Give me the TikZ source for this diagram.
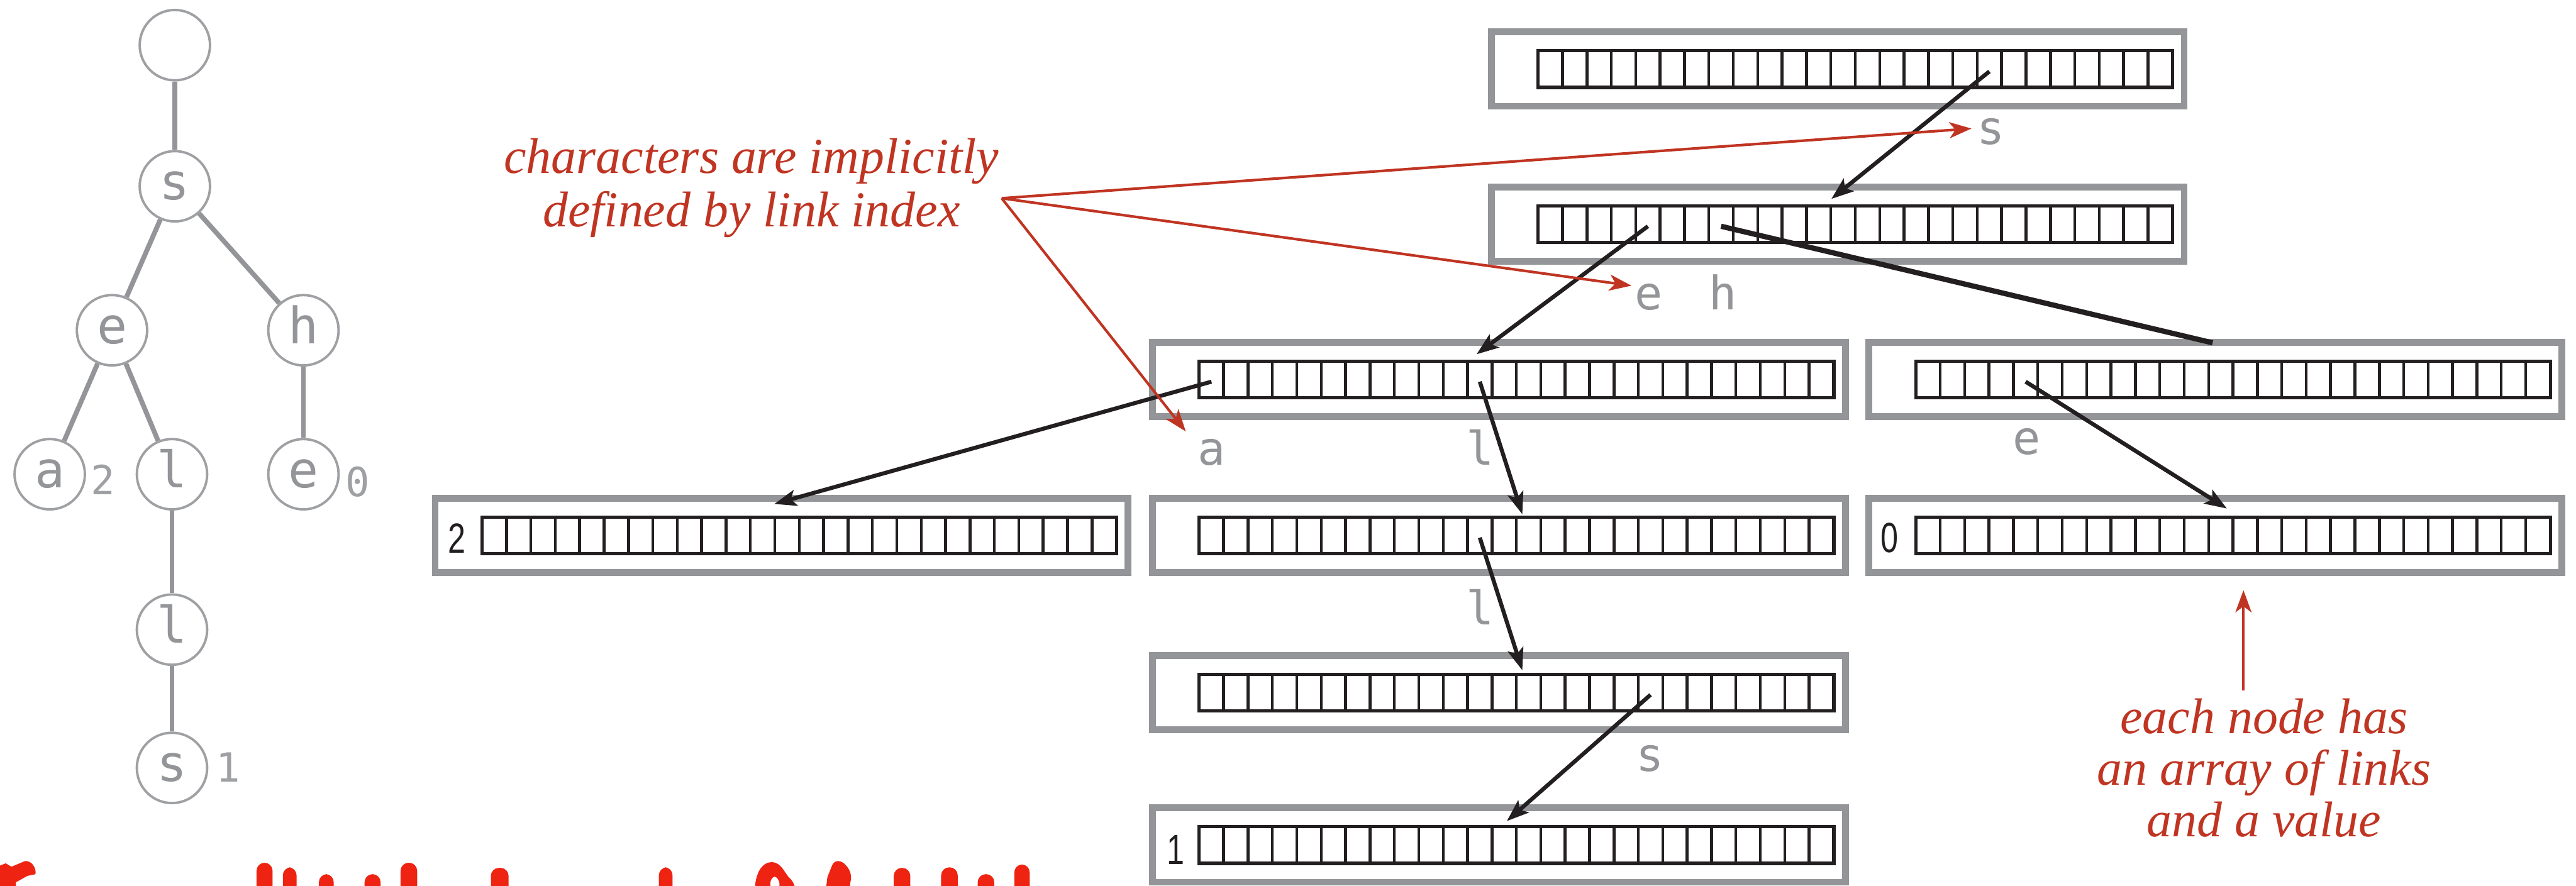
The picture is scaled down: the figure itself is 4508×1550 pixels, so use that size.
\documentclass[tikz,border=0pt]{standalone}
\usepackage{fontspec}
\usetikzlibrary{arrows.meta,calc}
\newfontfamily\glyphfont{DejaVu Sans Mono}
\newfontfamily\valuefont[FakeStretch=0.75]{Liberation Sans}
\newfontfamily\notefont{Liberation Serif}
\definecolor{framegray}{RGB}{147,149,152}
\definecolor{ringgray}{RGB}{158,160,163}
\definecolor{notered}{RGB}{192,52,34}
\definecolor{scrawlred}{RGB}{238,35,17}
\definecolor{inkblack}{RGB}{35,31,32}

% one trie node: gray frame, 26-slot link array, named slot centres (#1-0 .. #1-25)
\newcommand{\trierow}[3]{%
  \node[nodeframe] (#1) at (#2+612,#3) {};
  \node[slotrow] (#1r) at (#2+643,#3) {};
  \foreach \k in {1,...,25}{%
    \draw[slotline] ($(#1r.north west)+(\k*42.69,0)$) -- ($(#1r.south west)+(\k*42.69,0)$);}
  \foreach \k in {0,...,25}{%
    \coordinate (#1-\k) at ($(#1r.west)+(\k*42.69+21.35,4)$);}
}

\begin{document}
\begin{tikzpicture}[x=0.01cm,y=-0.01cm,
  nodeframe/.style={draw=framegray,line width=3.4pt,minimum width=12.12cm,minimum height=1.30cm,inner sep=0pt,outer sep=0pt},
  slotrow/.style={draw=inkblack,line width=1.6pt,minimum width=11.10cm,minimum height=0.64cm,inner sep=0pt,outer sep=0pt},
  slotline/.style={inkblack,line width=1.4pt},
  linkarrow/.style={inkblack,line width=2pt,-{Stealth[length=11pt,width=8pt,inset=2.5pt]}},
  barelink/.style={inkblack,line width=2.6pt},
  charlabel/.style={text=framegray,font=\glyphfont\fontsize{23}{23}\selectfont,anchor=base,inner sep=0pt},
  valtext/.style={text=inkblack,font=\valuefont\fontsize{21}{21}\selectfont,inner sep=0pt,anchor=base},
  tnode/.style={circle,draw=ringgray,line width=1.2pt,minimum size=1.23cm,inner sep=0pt,text=framegray,
    font=\glyphfont\fontsize{25}{25}\selectfont,text height=13.5pt,text depth=0pt},
  tedge/.style={framegray,line width=2.4pt},
  tval/.style={text=ringgray,font=\glyphfont\fontsize{20}{20}\selectfont,inner sep=0pt,anchor=base},
  notetext/.style={text=notered,font=\notefont\itshape\fontsize{25}{26.5}\selectfont,align=center,inner sep=0pt,anchor=north},
  pointer/.style={notered,line width=1.3pt,-{Stealth[length=11pt,width=8pt,inset=3pt]}},
  scrawl/.style={fill=scrawlred}
]
\fill[white] (0,0) rectangle (4508,1550);
\useasboundingbox (0,0) rectangle (4508,1550);

% ---------- the trie drawn as a tree ----------
\node[tnode] (t0)   at (306,79)   {};
\node[tnode] (ts)   at (306,326)  {s};
\node[tnode] (te)   at (196,578)  {e};
\node[tnode] (th)   at (531,578)  {h};
\node[tnode] (ta)   at (87,830)   {a};
\node[tnode] (tl)   at (301,830)  {l};
\node[tnode] (the)  at (531,830)  {e};
\node[tnode] (tll)  at (301,1102) {l};
\node[tnode] (tlls) at (301,1344) {s};
\draw[tedge] (t0) -- (ts);
\draw[tedge] (ts) -- (te);
\draw[tedge] (ts) -- (th);
\draw[tedge] (te) -- (ta);
\draw[tedge] (te) -- (tl);
\draw[tedge] (th) -- (the);
\draw[tedge] (tl) -- (tll);
\draw[tedge] (tll) -- (tlls);
\node[tval] (tav)   at (180,866)  {2};
\node[tval] (thev)  at (626,869)  {0};
\node[tval] (tllsv) at (399,1369) {1};

% ---------- the same trie as arrays of links ----------
\trierow{root}{2604}{121}
\trierow{ns}{2604}{392}
\trierow{nse}{2011}{664}
\trierow{nsh}{3265}{664}
\trierow{nsea}{756}{937}
\trierow{nsel}{2011}{937}
\trierow{nshe}{3265}{937}
\trierow{nsell}{2011}{1212}
\trierow{nsells}{2011}{1479}

\node[valtext] (nseav)    at (800,968)   {2};
\node[valtext] (nshev)    at (3307,967)  {0};
\node[valtext] (nsellsv)  at (2058,1513) {1};

% characters implied by the link index
\node[charlabel] (ls)  at (3484,253)  {s};
\node[charlabel] (le)  at (2885,542)  {e};
\node[charlabel] (lh)  at (3015,542)  {h};
\node[charlabel] (la)  at (2120,814)  {a};
\node[charlabel] (ll)  at (2590,814)  {l};
\node[charlabel] (le2) at (3547,795)  {e};
\node[charlabel] (ll2) at (2590,1093) {l};
\node[charlabel] (ls2) at (2888,1350) {s};

% link targets
\coordinate (ns-in)     at (3205,348);
\coordinate (nse-in)    at (2584,620);
\coordinate (nsh-in)    at (3872,600);
\coordinate (nsea-in)   at (1355,882);
\coordinate (nsel-in)   at (2664,900);
\coordinate (nshe-in)   at (3897,890);
\coordinate (nsell-in)  at (2664,1173);
\coordinate (nsells-in) at (2637,1437);

\draw[linkarrow] (root-18) -- (ns-in);
\draw[linkarrow] (ns-4)    -- (nse-in);
\draw[barelink]  (ns-7)    -- (nsh-in);
\draw[linkarrow] (nse-0)   -- (nsea-in);
\draw[linkarrow] (nse-11)  -- (nsel-in);
\draw[linkarrow] (nsh-4)   -- (nshe-in);
\draw[linkarrow] (nsel-11) -- (nsell-in);
\draw[linkarrow] (nsell-18) -- (nsells-in);

% ---------- annotations ----------
\node[notetext] (note1) at (1315,242) {characters are implicitly\\defined by link index};
\coordinate (fan) at (1753,347);
\coordinate (toS) at (3450,225);
\coordinate (toE) at (2855,500);
\coordinate (toA) at (2075,755);
\draw[pointer] (fan) -- (toS);
\draw[pointer] (fan) -- (toE);
\draw[pointer] (fan) -- (toA);

\node[notetext,font=\notefont\itshape\fontsize{25}{25.6}\selectfont] (note2) at (3962,1222)
  {each node has\\an array of links\\and a value};
\coordinate (valtip) at (3926,1033);
\draw[pointer,shorten <=4pt] (note2.north -| valtip) -- (valtip);

% ---------- red scrawl cut off by the lower edge ----------
\begin{scope}
\clip (0,0) rectangle (4508,1550);
\foreach \xl/\xr/\yt in {449/477/1510, 495/519/1518, 558/584/1530, 638/666/1530,
    701/730/1510, 859/890/1519, 1153/1177/1518, 1564/1593/1519, 1647/1676/1518,
    1711/1740/1530, 1775/1802/1513}{%
  \fill[scrawl,rounded corners=4pt] (\xl,1600) -- (\xl,\yt) -- (\xr,\yt) -- (\xr,1600) -- cycle;}
\fill[scrawl] (0,1600) -- (0,1515) -- (10,1511) -- (20,1517) -- (44,1507)
  .. controls (56,1506) and (64,1520) .. (62,1530) -- (48,1533) -- (28,1544) -- (24,1600) -- cycle;
\fill[scrawl,even odd rule] (1322,1600) -- (1322,1545) .. controls (1326,1520) and (1338,1508) .. (1352,1509)
  .. controls (1366,1510) and (1372,1525) .. (1380,1535) .. controls (1392,1545) and (1395,1560) .. (1395,1600) -- cycle
  (1348,1600) -- (1348,1545) .. controls (1350,1532) and (1360,1530) .. (1364,1545) -- (1364,1600) -- cycle;
\fill[scrawl] (1440,1600) -- (1448,1535) -- (1456,1515) .. controls (1460,1505) and (1470,1505) .. (1478,1512)
  .. controls (1486,1520) and (1492,1530) .. (1488,1545) -- (1484,1600) -- cycle;
\end{scope}
\end{tikzpicture}
\end{document}
